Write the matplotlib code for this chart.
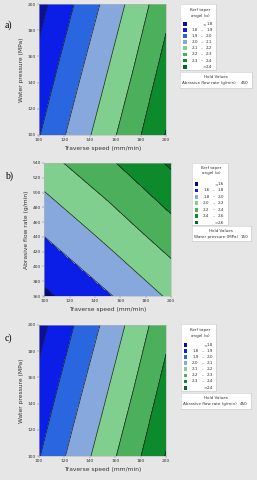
import numpy as np
import matplotlib
matplotlib.use("Agg")
import matplotlib.pyplot as plt
from matplotlib.patches import Rectangle

# ---- data ----
# panels a) and c): kerf taper vs traverse speed / water pressure (flow rate held at 450)
speed_ac = [100, 125, 150, 175, 200]
pressure_ac = [100, 150, 200]
taper_ac = [
    [1.895, 2.021, 2.145, 2.271, 2.405],
    [1.830, 1.954, 2.078, 2.204, 2.337],
    [1.766, 1.887, 2.010, 2.137, 2.270],
]
levels_ac = [1.8, 1.9, 2.0, 2.1, 2.2, 2.3, 2.4]
colors_ac = ["#0b0f9c", "#0a1ee8", "#2a66e0", "#86a8dc", "#80cf8e", "#4caf5c", "#0c8a2c", "#006b1e"]

# panel b): kerf taper vs traverse speed / abrasive flow rate (pressure held at 150)
speed_b = [100, 150, 200]
flow_b = [360, 450, 540]
taper_b = [
    [1.563, 1.780, 2.033],
    [1.828, 2.075, 2.329],
    [2.128, 2.364, 2.630],
]
levels_b = [1.6, 1.8, 2.0, 2.2, 2.4, 2.6]
colors_b = ["#050a75", "#0a1ee8", "#86a8dc", "#80cf8e", "#4caf5c", "#0c8a2c", "#006b1e"]

bg = "#e6e6e6"
W, H = 257, 480
txt = "#333333"

fig = plt.figure(figsize=(W / 100, H / 100), dpi=100, facecolor=bg)


def px_axes(x0, y0, x1, y1, **kw):
    # rectangle given in image pixels (origin top-left)
    return fig.add_axes([x0 / W, 1 - y1 / H, (x1 - x0) / W, (y1 - y0) / H], **kw)


def contour_panel(box, xs, ys, zs, levels, colors, ylabel, yticks, tag, tag_y):
    ax = px_axes(*box)
    X, Y = np.meshgrid(xs, ys)
    Z = np.array(zs)
    lv = [-10] + levels + [10]
    ax.contourf(X, Y, Z, levels=lv, colors=colors)
    ax.contour(X, Y, Z, levels=levels, colors="#1e1e1e", linewidths=0.5)
    ax.set_xlim(xs[0], xs[-1])
    ax.set_ylim(ys[0], ys[-1])
    ax.set_xticks([100, 120, 140, 160, 180, 200])
    ax.set_yticks(yticks)
    ax.tick_params(labelsize=3.2, length=1.2, width=0.3, pad=1, colors="#666666", labelcolor=txt)
    for s in ax.spines.values():
        s.set_color("#b5b5b5")
        s.set_linewidth(0.4)
    ax.set_xlabel("Traverse speed (mm/min)", fontsize=4.3, color=txt, labelpad=2.5)
    ax.set_ylabel(ylabel, fontsize=4.3, color=txt, labelpad=2.5)
    fig.text(5 / W, 1 - tag_y / H, tag, fontsize=7, family="Liberation Serif", va="center")
    return ax


def legend_box(box, levels, colors, row0, step, t1, t2):
    x0, y0, x1, y1 = box
    w, h = x1 - x0, y1 - y0
    lg = px_axes(*box)
    lg.set_xlim(0, w)
    lg.set_ylim(h, 0)
    lg.set_xticks([])
    lg.set_yticks([])
    lg.set_facecolor("white")
    for s in lg.spines.values():
        s.set_color("#c8c8c8")
        s.set_linewidth(0.4)
    fs = 3.0
    lg.text(w / 2 + 2, t1, "Kerf taper", fontsize=fs, ha="center", va="center", color=txt)
    lg.text(w / 2 + 2, t2, "angel (α)", fontsize=fs, ha="center", va="center", color=txt)
    labels = [("<", "", f"{levels[0]:.1f}")]
    for a, b in zip(levels[:-1], levels[1:]):
        labels.append((f"{a:.1f}", "–", f"{b:.1f}"))
    labels.append((">", "", f"{levels[-1]:.1f}"))
    for i, (c, (a, d, b)) in enumerate(zip(colors, labels)):
        y = row0 + step * i
        lg.add_patch(Rectangle((3, y - 1.9), 3.8, 3.8, facecolor=c, edgecolor="none"))
        if d:
            lg.text(18, y, a, fontsize=fs, ha="right", va="center", color=txt)
            lg.text(22.3, y, d, fontsize=fs, ha="center", va="center", color=txt)
        else:
            lg.text(24.5, y, a, fontsize=fs, ha="center", va="center", color=txt)
        lg.text(32.5, y, b, fontsize=fs, ha="right", va="center", color=txt)


def hold_box(box, name, value):
    x0, y0, x1, y1 = box
    w, h = x1 - x0, y1 - y0
    hb = px_axes(*box)
    hb.set_xlim(0, w)
    hb.set_ylim(h, 0)
    hb.set_xticks([])
    hb.set_yticks([])
    hb.set_facecolor("white")
    for s in hb.spines.values():
        s.set_color("#c8c8c8")
        s.set_linewidth(0.4)
    hb.text(w / 2, 5.2, "Hold Values", fontsize=3.0, ha="center", va="center", color=txt)
    hb.text(2.2, 11.2, name, fontsize=3.0, ha="left", va="center", color=txt)
    hb.text(w - 3, 11.2, value, fontsize=3.0, ha="right", va="center", color=txt)


# a)
contour_panel((39, 4, 166, 135), speed_ac, pressure_ac, taper_ac, levels_ac, colors_ac,
              "Water pressure (MPa)", [100, 120, 140, 160, 180, 200], "a)", 25)
legend_box((180, 3.5, 216, 69.5), levels_ac, colors_ac, 20.4, 6.1, 6, 12)
hold_box((180, 71.5, 252, 87.5), "Abrasive flow rate (g/min)", "450")

# b)
contour_panel((44.3, 163, 171, 296), speed_b, flow_b, taper_b, levels_b, colors_b,
              "Abrasive flow rate (g/min)", list(range(360, 541, 20)), "b)", 176.5)
legend_box((191.5, 163.3, 227.5, 225), levels_b, colors_b, 20.7, 6.43, 4.2, 10)
hold_box((191.5, 225.7, 251, 241.3), "Water pressure (MPa)", "150")

# c)
contour_panel((39, 325, 166, 456), speed_ac, pressure_ac, taper_ac, levels_ac, colors_ac,
              "Water pressure (MPa)", [100, 120, 140, 160, 180, 200], "c)", 338)
legend_box((180.5, 324, 216, 391), levels_ac, colors_ac, 20.9, 6.1, 6.3, 12.3)
hold_box((180.5, 393, 251, 409.3), "Abrasive flow rate (g/min)", "450")

fig.savefig("out.png", dpi=100, facecolor=bg)
